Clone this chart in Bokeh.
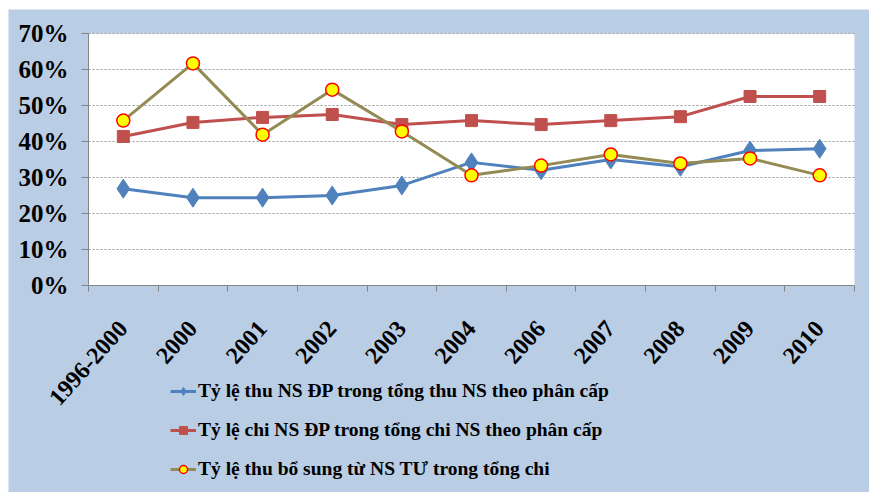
from bokeh.plotting import figure
from bokeh.layouts import row, column
from bokeh.models import FixedTicker, Legend, LegendItem, Range1d, Spacer
from bokeh.embed import file_html
from bokeh.resources import INLINE

categories = ["1996-2000", "2000", "2001", "2002", "2003", "2004",
              "2006", "2007", "2008", "2009", "2010"]
thu_dp = [26.9, 24.4, 24.4, 25.0, 27.8, 34.2, 32.0, 35.0, 33.0, 37.5, 38.0]
chi_dp = [41.4, 45.3, 46.7, 47.5, 44.7, 45.8, 44.7, 45.8, 46.9, 52.5, 52.5]
bo_sung = [45.8, 61.7, 41.9, 54.4, 42.8, 30.6, 33.3, 36.4, 33.9, 35.3, 30.6]
y_ticks = [0, 10, 20, 30, 40, 50, 60, 70]
y_tick_labels = ["0%", "10%", "20%", "30%", "40%", "50%", "60%", "70%"]
series_labels = [
    "Tỷ lệ thu NS ĐP trong tổng thu NS theo phân cấp",
    "Tỷ lệ chi NS ĐP trong tổng chi NS theo phân cấp",
    "Tỷ lệ thu bổ sung từ NS TƯ trong tổng chi",
]

n = len(categories)
x = [i + 0.5 for i in range(n)]
bounds = list(range(n + 1))

FONT = "Liberation Serif"
BG = "#B9CDE5"
AX = "#868686"

# layout (pixels inside the figure): plot area box
W, H = 861, 483
PA_LEFT, PA_RIGHT, PA_TOP, PA_BOTTOM = 80, 846, 24, 276
px_x = (PA_RIGHT - PA_LEFT) / n
px_y = (PA_BOTTOM - PA_TOP) / (y_ticks[-1] - y_ticks[0])
x_lo = 0 - PA_LEFT / px_x
x_hi = n + (W - PA_RIGHT) / px_x
y_hi = y_ticks[-1] + PA_TOP / px_y
y_lo = y_ticks[0] - (H - PA_BOTTOM) / px_y

p = figure(width=W, height=H, x_range=Range1d(x_lo, x_hi),
           y_range=Range1d(y_lo, y_hi),
           output_backend="svg", toolbar_location=None,
           min_border=0, min_border_left=0, min_border_right=0,
           min_border_top=0, min_border_bottom=0)
p.background_fill_color = BG
p.border_fill_color = BG
p.outline_line_color = None
p.xgrid.visible = False
p.ygrid.visible = False

# white plot area
p.quad(left=0, right=n, bottom=y_ticks[0], top=y_ticks[-1],
       fill_color="white", line_color=None, level="image")
# dotted horizontal gridlines
p.segment(x0=[0] * (len(y_ticks) - 1), x1=[n] * (len(y_ticks) - 1),
          y0=y_ticks[1:], y1=y_ticks[1:], line_color="#9A9A9A",
          line_dash="2 2", line_width=1, level="underlay")

# x axis at value 0
p.xaxis.fixed_location = y_ticks[0]
p.xaxis.bounds = (0, n)
p.xaxis.ticker = FixedTicker(ticks=x, minor_ticks=bounds)
p.xaxis.major_label_overrides = {xi: c for xi, c in zip(x, categories)}
p.xaxis.major_tick_line_color = None
p.xaxis.major_tick_out = 0
p.xaxis.major_tick_in = 0
p.xaxis.minor_tick_out = 6
p.xaxis.minor_tick_in = 0
p.xaxis.minor_tick_line_color = AX
p.xaxis.axis_line_color = AX
p.xaxis.major_label_orientation = 0.84
p.xaxis.major_label_text_font = FONT
p.xaxis.major_label_text_font_style = "bold"
p.xaxis.major_label_text_font_size = "24px"
p.xaxis.major_label_text_color = "black"
p.xaxis.major_label_standoff = 33

# y axis at category edge 0
p.yaxis.fixed_location = 0
p.yaxis.bounds = (y_ticks[0], y_ticks[-1])
p.yaxis.ticker = FixedTicker(ticks=y_ticks)
p.yaxis.major_label_overrides = {t: l for t, l in zip(y_ticks, y_tick_labels)}
p.yaxis.major_tick_out = 7
p.yaxis.major_tick_in = 0
p.yaxis.major_tick_line_color = AX
p.yaxis.minor_tick_line_color = None
p.yaxis.axis_line_color = AX
p.yaxis.major_label_text_font = FONT
p.yaxis.major_label_text_font_style = "bold"
p.yaxis.major_label_text_font_size = "25px"
p.yaxis.major_label_text_color = "black"
p.yaxis.major_label_standoff = 13

l1 = p.line(x, thu_dp, color="#4F81BD", line_width=3)
m1 = p.scatter(x, thu_dp, marker="diamond", size=19, color="#4F81BD")
l2 = p.line(x, chi_dp, color="#C0504D", line_width=3)
m2 = p.scatter(x, chi_dp, marker="square", size=12, color="#C0504D")
l3 = p.line(x, bo_sung, color="#948A54", line_width=3)
m3 = p.scatter(x, bo_sung, marker="circle", size=13, fill_color="#FFFF00",
               line_color="#FF0000", line_width=1.5)

legend = Legend(items=[
    LegendItem(label=series_labels[0], renderers=[l1, m1]),
    LegendItem(label=series_labels[1], renderers=[l2, m2]),
    LegendItem(label=series_labels[2], renderers=[l3, m3]),
], location=(162, 12))
legend.label_text_font = FONT
legend.label_text_font_style = "bold"
legend.label_text_font_size = "19.5px"
legend.label_text_color = "black"
legend.background_fill_alpha = 0
legend.border_line_color = None
legend.glyph_width = 26
legend.glyph_height = 20
legend.label_height = 20
legend.spacing = 17
legend.padding = 0
legend.margin = 0
legend.label_standoff = 2
p.add_layout(legend)

page = column(Spacer(height=9), row(Spacer(width=8), p))
open("out.html", "w").write(file_html(page, INLINE))
